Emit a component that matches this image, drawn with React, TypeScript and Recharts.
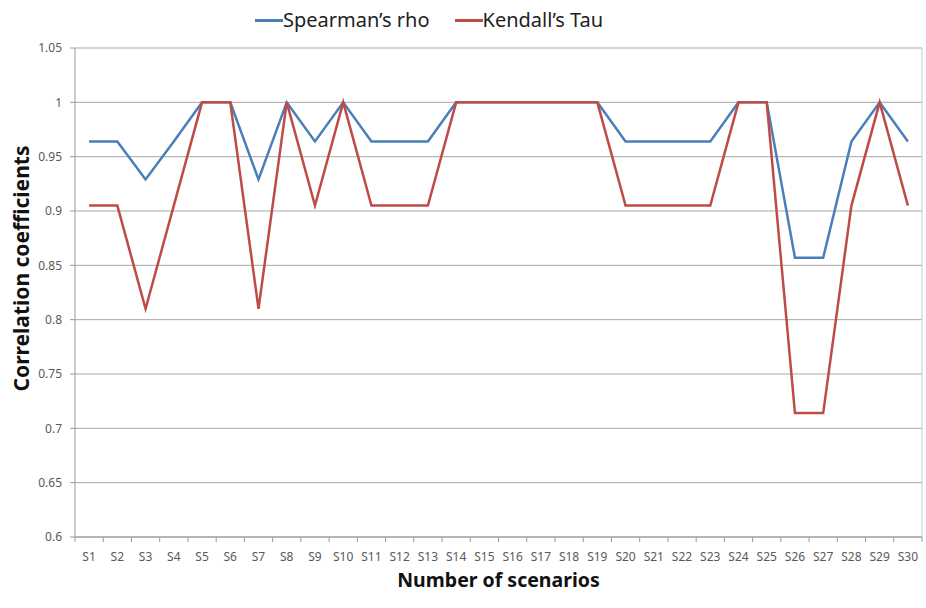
import { LineChart, Line, XAxis, YAxis, CartesianGrid } from 'recharts';

const scenarios = Array.from({ length: 30 }, (_, i) => `S${i + 1}`);

const spearman = [
  0.964, 0.964, 0.929, 0.964, 1, 1, 0.929, 1, 0.964, 1,
  0.964, 0.964, 0.964, 1, 1, 1, 1, 1, 1, 0.964,
  0.964, 0.964, 0.964, 1, 1, 0.857, 0.857, 0.964, 1, 0.964,
];

const kendall = [
  0.905, 0.905, 0.81, 0.905, 1, 1, 0.81, 1, 0.905, 1,
  0.905, 0.905, 0.905, 1, 1, 1, 1, 1, 1, 0.905,
  0.905, 0.905, 0.905, 1, 1, 0.714, 0.714, 0.905, 1, 0.905,
];

const yTicks = [0.6, 0.65, 0.7, 0.75, 0.8, 0.85, 0.9, 0.95, 1, 1.05];

const seriesNames = ['Spearman\u2019s rho', 'Kendall\u2019s Tau'];

const data = scenarios.map((s, i) => ({ name: s, rho: spearman[i], tau: kendall[i] }));

const FONT = '"Noto Sans", "Open Sans", sans-serif';
const BLUE = '#4a7ebb';
const RED = '#be4b48';
const HALF_STEP = 14.1;

const XTick = (props: any) => {
  const { x, y, payload, index } = props;
  const last = index === scenarios.length - 1;
  return (
    <g>
      <line x1={x - HALF_STEP} x2={x - HALF_STEP} y1={y - 8} y2={y - 3} stroke="#9a9a9a" />
      {last && <line x1={x + HALF_STEP} x2={x + HALF_STEP} y1={y - 8} y2={y - 3} stroke="#9a9a9a" />}
      <text x={x} y={y + 16} textAnchor="middle" fontSize={12} fill="#595959" fontFamily={FONT}>
        {payload.value}
      </text>
    </g>
  );
};

const YTitle = (props: any) => {
  const { viewBox } = props;
  const cx = 21;
  const cy = viewBox.y + viewBox.height / 2 - 24;
  return (
    <text
      x={cx}
      y={cy}
      transform={`rotate(-90, ${cx}, ${cy})`}
      textAnchor="middle"
      dominantBaseline="central"
      fontSize={21}
      fontWeight="bold"
      fill="#111"
      fontFamily={FONT}
    >
      Correlation coefficients
    </text>
  );
};

export default function App() {
  return (
    <div style={{ position: 'absolute', left: 0, top: 0, width: 926, height: 608, background: '#fff' }}>
      {/* legend, drawn above the plot like the Excel original */}
      <div
        style={{
          position: 'absolute',
          top: 6,
          left: 255,
          display: 'flex',
          fontFamily: FONT,
          fontSize: 20,
          color: '#222',
          lineHeight: '28px',
        }}
      >
        {seriesNames.map((label, i) => (
          <span key={label} style={{ display: 'flex', alignItems: 'center', marginRight: 25 }}>
            <span style={{ display: 'inline-block', width: 28, height: 3, background: i === 0 ? BLUE : RED }} />
            {label}
          </span>
        ))}
      </div>
      <LineChart width={926} height={608} data={data} margin={{ top: 48, right: 3, left: 15, bottom: 41 }}>
        <CartesianGrid vertical={false} stroke="#a8a8a8" />
        <XAxis
          dataKey="name"
          padding={{ left: HALF_STEP, right: HALF_STEP }}
          interval={0}
          tickLine={false}
          tick={<XTick />}
          height={30}
          stroke="#9a9a9a"
          label={{ value: 'Number of scenarios', position: 'insideBottom', offset: -20, fontSize: 19.5, fontWeight: 'bold', fill: '#111', fontFamily: FONT }}
        />
        <YAxis
          domain={[0.6, 1.05]}
          ticks={yTicks}
          interval={0}
          width={60}
          stroke="#9a9a9a"
          tickSize={5}
          tickMargin={8}
          tick={{ fontSize: 12, fill: '#595959', fontFamily: FONT }}
          label={<YTitle />}
        />
        <YAxis yAxisId="r" orientation="right" domain={[0.6, 1.05]} tick={false} tickLine={false} width={1} stroke="#c8c8c8" />
        <Line type="linear" dataKey="rho" stroke={BLUE} strokeWidth={2.5} dot={false} isAnimationActive={false} />
        <Line type="linear" dataKey="tau" stroke={RED} strokeWidth={2.5} dot={false} isAnimationActive={false} />
      </LineChart>
    </div>
  );
}
